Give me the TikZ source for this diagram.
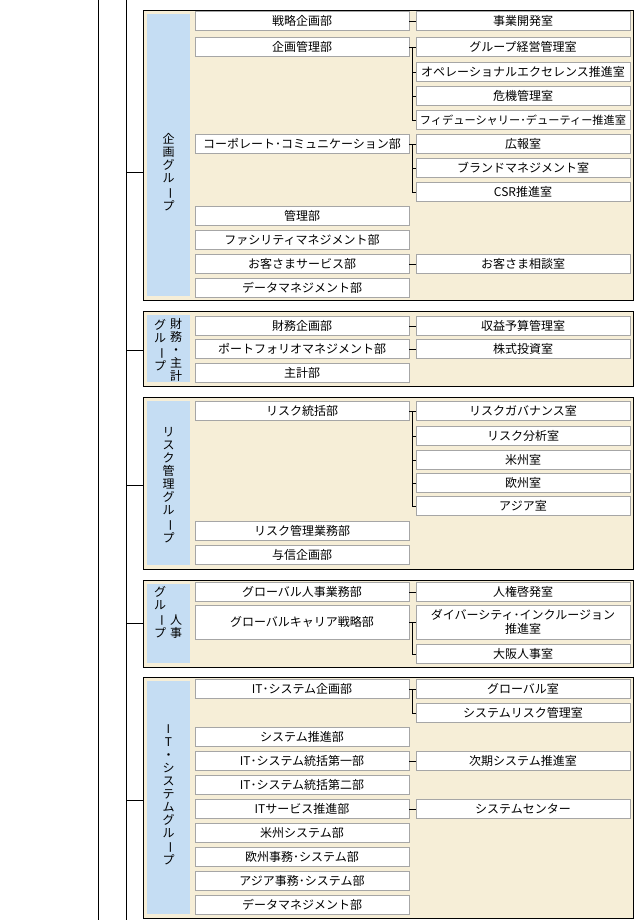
\documentclass[tikz,border=0pt]{standalone}
\usepackage{fontspec}
\setmainfont{Noto Sans CJK JP}
\newcommand\vbar{\rotatebox[origin=c]{-90}{ー}}
\begin{document}
\begin{tikzpicture}[x=1pt,y=-1pt,
  grp/.style={draw=black,fill=beigec,line width=0.8pt},
  dept/.style={draw=gray!70,fill=white,minimum width=214pt,minimum height=19pt,inner sep=0pt,font=\fontsize{12}{13.5}\selectfont},
  room/.style={dept},
  vlab/.style={align=center,inner sep=0pt,font=\fontsize{12}{13}\selectfont},
  ln/.style={draw=black,line width=0.7pt}]
\definecolor{beigec}{HTML}{F6EED7}
\definecolor{bluec}{HTML}{C5DDF3}
\useasboundingbox (0,0) rectangle (634,920);
\coordinate (L1a) at (98,0); \coordinate (L1b) at (98,920);
\coordinate (L2a) at (126,0); \coordinate (L2b) at (126,920);
\draw[ln] (L1a) -- (L1b);
\draw[ln] (L2a) -- (L2b);
% groups
\foreach \n/\t/\b/\c in {g1/10/300/172,g2/311/386/350,g3/397/569/485,g4/580/667/623,g5/677/918/800}{
  \draw[grp] (143,\t) rectangle (633,\b);
  \fill[bluec] (147,\t+4) rectangle (190,\b-4);
  \coordinate (\n) at (143,\c);
  \coordinate (\n s) at (126,\c);
  \draw[ln] (\n s) -- (\n);
}
% labels
\node[vlab] (lab1) at (168.5,172) {企\\画\\グ\\ル\\\vbar\\プ};
\node[vlab] (lab2a) at (176,350) {財\\務\\・\\主\\計};
\node[vlab] (lab2b) at (160,345) {グ\\ル\\\vbar\\プ};
\node[vlab] (lab3) at (168.5,485) {リ\\ス\\ク\\管\\理\\グ\\ル\\\vbar\\プ};
\node[vlab] (lab4a) at (176,627) {人\\事};
\node[vlab] (lab4b) at (160,612) {グ\\ル\\\vbar\\プ};
\node[vlab] (lab5) at (168.5,795) {I\\T\\・\\シ\\ス\\テ\\ム\\グ\\ル\\\vbar\\プ};
% departments
\foreach \n/\y/\t in {a1/21/戦略企画部,a2/47/企画管理部,a3/144/コーポレート･コミュニケーション部,a4/216/管理部,a5/240/ファシリティマネジメント部,a6/264/お客さまサービス部,a7/288/データマネジメント部,
 b1/326/財務企画部,b2/349/ポートフォリオマネジメント部,b3/373/主計部,
 c1/411/リスク統括部,c2/531/リスク管理業務部,c3/555/与信企画部,
 d1/592/グローバル人事業務部,
 e1/689/IT･システム企画部,e2/737/システム推進部,e3/761/IT･システム統括第一部,e4/785/IT･システム統括第二部,e5/809/ITサービス推進部,e6/833/米州システム部,e7/857/欧州事務･システム部,e8/881/アジア事務･システム部,e9/905/データマネジメント部}
  \node[dept] (\n) at (302,\y) {\t};
\node[dept,minimum height=34pt] (d2) at (302,622) {グローバルキャリア戦略部};
% rooms
\foreach \n/\y/\t in {ra1/21/事業開発室,ra2/47/グループ経営管理室,ra3/72/オペレーショナルエクセレンス推進室,ra4/96/危機管理室,ra6/144/広報室,ra7/168/ブランドマネジメント室,ra8/192/CSR推進室,ra9/264/お客さま相談室,
 rb1/326/収益予算管理室,rb2/349/株式投資室,
 rc1/411/リスクガバナンス室,rc2/436/リスク分析室,rc3/460/米州室,rc4/483/欧州室,rc5/506/アジア室,
 rd1/592/人権啓発室,rd3/654/大阪人事室,
 re1/689/グローバル室,re2/713/システムリスク管理室,re3/761/次期システム推進室,re4/809/システムセンター}
  \node[room] (\n) at (523,\y) {\t};
\node[room,font=\fontsize{11.2}{13}\selectfont] (ra5) at (523,120) {フィデューシャリー･デューティー推進室};
\node[room,minimum height=34pt,align=center] (rd2) at (523,622) {ダイバーシティ･インクルージョン\\推進室};
% connectors
\foreach \d/\r in {a1/ra1,a6/ra9,b1/rb1,b2/rb2,d1/rd1,e3/re3,e5/re4}
  \draw[ln] (\d.east) -- (\r.west);
\draw[ln] (a2.east) -- ++(3.5,0) |- (ra5.west);
\foreach \r in {ra2,ra3,ra4} \draw[ln] (\r.west) -- ++(-3.5,0);
\draw[ln] (a3.east) -- ++(3.5,0) |- (ra8.west);
\foreach \r in {ra6,ra7} \draw[ln] (\r.west) -- ++(-3.5,0);
\draw[ln] (c1.east) -- ++(3.5,0) |- (rc5.west);
\foreach \r in {rc1,rc2,rc3,rc4} \draw[ln] (\r.west) -- ++(-3.5,0);
\draw[ln] (d2.east) -- ++(3.5,0) |- (rd3.west);
\draw[ln] (rd2.west) -- ++(-3.5,0);
\draw[ln] (e1.east) -- ++(3.5,0) |- (re2.west);
\draw[ln] (re1.west) -- ++(-3.5,0);
\end{tikzpicture}
\end{document}
